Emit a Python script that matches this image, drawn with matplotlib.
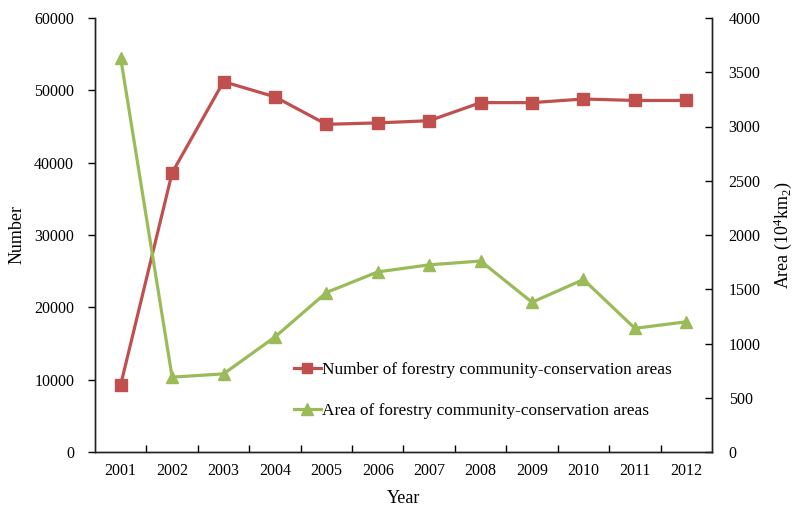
import matplotlib
matplotlib.use("Agg")
import matplotlib.pyplot as plt
import numpy as np

plt.rcParams['font.family'] = ['Liberation Serif', 'DejaVu Serif']
plt.rcParams['mathtext.fontset'] = 'custom'
plt.rcParams['mathtext.rm'] = 'Liberation Serif'
plt.rcParams['mathtext.it'] = 'Liberation Serif:italic'

years = ['2001', '2002', '2003', '2004', '2005', '2006',
         '2007', '2008', '2009', '2010', '2011', '2012']
number_areas = [9300, 38600, 51200, 49100, 45300, 45500,
                45800, 48300, 48300, 48800, 48600, 48600]
area_sizes = [3630, 690, 720, 1060, 1470, 1660,
              1725, 1760, 1380, 1590, 1140, 1200]

red = '#C0504D'
green = '#9BBB59'

fig = plt.figure(figsize=(7.95, 5.12), dpi=100)
ax = fig.add_axes([95 / 795, 1 - 452 / 512, 617 / 795, 434 / 512])
ax2 = ax.twinx()

x = np.arange(len(years))
l1, = ax.plot(x, number_areas, color=red, lw=2.3, marker='s', ms=8,
              label='Number of forestry community-conservation areas')
l2, = ax2.plot(x, area_sizes, color=green, lw=2.3, marker='^', ms=9,
               label='Area of forestry community-conservation areas')

ax.set_xlim(-0.5, len(years) - 0.5)
ax.set_ylim(0, 60000)
ax.set_yticks(np.arange(0, 60001, 10000))
ax2.set_ylim(0, 4000)
ax2.set_yticks(np.arange(0, 4001, 500))

ax.set_xticks(x)
ax.set_xticklabels(years)
ax.set_xticks(np.arange(0.5, len(years) - 0.5, 1), minor=True)
ax.tick_params(axis='x', which='major', length=0, pad=8, labelsize=11.5)
ax.tick_params(axis='x', which='minor', direction='in', length=5, width=1)
ax.tick_params(axis='y', direction='out', length=5, width=1, pad=10, labelsize=11.5)
ax2.tick_params(axis='y', direction='in', length=5, width=1, pad=12, labelsize=11.5)

for a in (ax, ax2):
    a.spines['top'].set_visible(False)
    for s in a.spines.values():
        s.set_linewidth(1.0)
        s.set_color('#222222')

ax.set_xlabel('Year', fontsize=13, labelpad=8)
ax.set_ylabel('Number', fontsize=13, labelpad=6)
ax2.set_ylabel(r'Area (10$^4$km$_2$)', fontsize=13, labelpad=8)

fig.legend(handles=[l1, l2], loc='upper left',
           bbox_to_anchor=(278 / 795, 1 - 346 / 512), frameon=False,
           fontsize=12.4, labelspacing=1.45, handlelength=1.6,
           handletextpad=0.05, markerscale=0.9)

fig.savefig('out.png', dpi=100)
